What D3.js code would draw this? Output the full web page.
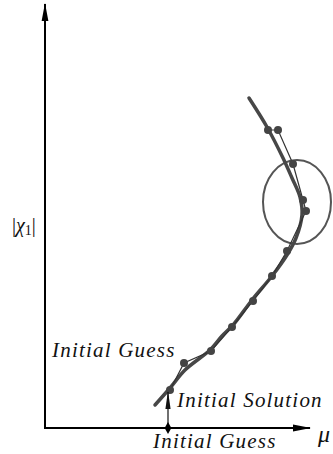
<!DOCTYPE html>
<html>
<head>
<meta charset="utf-8">
<script src="https://cdn.jsdelivr.net/npm/d3@7"></script>
<style>
  html, body { margin: 0; padding: 0; background: #fff; }
  svg { display: block; }
  .lbl { font-family: "Liberation Serif", "Times New Roman", serif; font-style: italic; fill: #111; }
</style>
</head>
<body>
<svg id="chart" width="333" height="454"></svg>
<script>
// Solution branch |χ1| versus μ (traced from the continuation result)
const branchMu  = [1.10, 1.25, 1.40, 1.65, 1.77, 1.88, 2.07, 2.27, 2.42, 2.51, 2.57, 2.55, 2.47, 2.38, 2.22, 2.04];
const branchChi = [0.23, 0.40, 0.58, 0.78, 0.92, 1.03, 1.28, 1.52, 1.73, 1.90, 2.13, 2.31, 2.50, 2.70, 3.01, 3.30];

// Predictor / corrector iterates of the continuation
const stepMu  = [1.25, 1.39, 1.66, 1.87, 2.08, 2.27, 2.42, 2.61, 2.58, 2.48, 2.33, 2.23];
const stepChi = [0.38, 0.65, 0.77, 1.01, 1.27, 1.52, 1.77, 2.17, 2.28, 2.64, 2.98, 2.98];

// Turning-point region (ellipse centre and half-axes)
const foldCentre = [2.52, 2.26];
const foldHalf   = [0.34, 0.42];

// Initial guess on the μ axis
const guessMu = 1.23;

const svg = d3.select("#chart");
const x = d3.scaleLinear().domain([0, 2.65]).range([45, 310]);
const y = d3.scaleLinear().domain([0, 4.24]).range([428, 4]);

const defs = svg.append("defs");
// slender arrowheads
defs.append("marker")
  .attr("id", "axisHead").attr("viewBox", "0 0 18 8")
  .attr("refX", 17).attr("refY", 4)
  .attr("markerWidth", 18).attr("markerHeight", 8)
  .attr("markerUnits", "userSpaceOnUse").attr("orient", "auto")
  .append("path").attr("d", "M0,0.6 L18,4 L0,7.4 Z").attr("fill", "#000");
defs.append("marker")
  .attr("id", "guessHead").attr("viewBox", "0 0 18 6")
  .attr("refX", 17).attr("refY", 3)
  .attr("markerWidth", 18).attr("markerHeight", 6)
  .attr("markerUnits", "userSpaceOnUse").attr("orient", "auto")
  .append("path").attr("d", "M0,0.4 L18,3 L0,5.6 Z").attr("fill", "#111");

// axes
const [x0, x1] = x.domain();
const [y0, y1] = y.domain();
svg.append("line")
  .attr("x1", x(x0)).attr("y1", y(y0)).attr("x2", x(x0)).attr("y2", y(y1))
  .attr("stroke", "#000").attr("stroke-width", 2).attr("marker-end", "url(#axisHead)");
svg.append("line")
  .attr("x1", x(x0) - 1).attr("y1", y(y0)).attr("x2", x(x1)).attr("y2", y(y0))
  .attr("stroke", "#000").attr("stroke-width", 2).attr("marker-end", "url(#axisHead)");

// fold ellipse
svg.append("ellipse")
  .attr("cx", x(foldCentre[0])).attr("cy", y(foldCentre[1]))
  .attr("rx", x(foldHalf[0]) - x(0)).attr("ry", y(0) - y(foldHalf[1]))
  .attr("fill", "none").attr("stroke", "#555").attr("stroke-width", 2);

// branch curve
const branch = branchMu.map((m, i) => [m, branchChi[i]]);
svg.append("path")
  .datum(branch)
  .attr("d", d3.line().x(d => x(d[0])).y(d => y(d[1])).curve(d3.curveCatmullRom.alpha(0.5)))
  .attr("fill", "none").attr("stroke", "#474747").attr("stroke-width", 3.5)
  .attr("stroke-linecap", "round");

// predictor-corrector path and iterates
const steps = stepMu.map((m, i) => [m, stepChi[i]]);
svg.append("path")
  .datum(steps)
  .attr("d", d3.line().x(d => x(d[0])).y(d => y(d[1])))
  .attr("fill", "none").attr("stroke", "#333").attr("stroke-width", 1.2);
svg.selectAll("circle.step")
  .data(steps).enter().append("circle").attr("class", "step")
  .attr("cx", d => x(d[0])).attr("cy", d => y(d[1])).attr("r", 4)
  .attr("fill", "#444");

// initial guess on the axis and arrow to the first solution
svg.append("line")
  .attr("x1", x(guessMu)).attr("y1", y(0)).attr("x2", x(guessMu)).attr("y2", y(0.36))
  .attr("stroke", "#111").attr("stroke-width", 1.2).attr("marker-end", "url(#guessHead)");
svg.append("path")
  .attr("d", d3.symbol(d3.symbolDiamond, 40)())
  .attr("transform", `translate(${x(guessMu)},${y(0)})`)
  .attr("fill", "#000");

// labels
const lbl = (t, px, py, size, ls) => svg.append("text").attr("class", "lbl")
  .attr("x", px).attr("y", py).attr("font-size", size).attr("letter-spacing", ls || 0).text(t);

lbl("Initial Guess", 52, 357, 21, 1.2);
lbl("Initial Solution", 177, 407, 21, 1.2);
lbl("Initial Guess", 153, 448, 21, 1.2);
lbl("\u03bc", 318, 442, 24);

const yl = svg.append("text").attr("class", "lbl")
  .attr("x", 12).attr("y", 232).attr("font-size", 20);
yl.append("tspan").attr("font-style", "normal").text("|");
yl.append("tspan").text("\u03c7");
yl.append("tspan").attr("font-style", "normal").attr("font-size", 14).attr("dy", 3).text("1");
yl.append("tspan").attr("font-style", "normal").attr("dy", -3).text("|");
</script>
</body>
</html>
